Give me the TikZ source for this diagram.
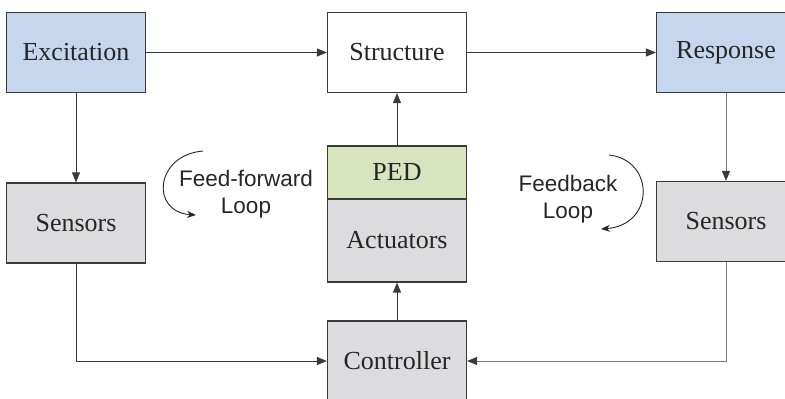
\documentclass[tikz,border=0pt]{standalone}
\usepackage{fontspec}
\setmainfont{Liberation Serif}
\setsansfont{Liberation Sans}
\usetikzlibrary{arrows.meta}
\definecolor{boxblue}{HTML}{C6D7ED}
\definecolor{boxgray}{HTML}{DCDCDE}
\definecolor{boxgreen}{HTML}{D8E4BD}
\definecolor{edge}{HTML}{3A3A3A}
\definecolor{lightedge}{HTML}{7A7A7A}
\tikzset{
  x=1pt, y=-1pt,
  blockbox/.style={draw=edge, line width=1.2pt, minimum width=139pt, minimum height=80pt,
    inner sep=0pt, font=\fontsize{26}{29}\selectfont, text=black!85},
  link/.style={draw=edge, line width=1pt, -{Triangle[length=10pt,width=8pt]}},
  greylink/.style={draw=lightedge, line width=1pt, -{Triangle[length=10pt,width=8pt,color=edge]}},
  looparrow/.style={draw=black!85, line width=0.9pt, -{Stealth[length=9pt,width=7pt]}},
  looplabel/.style={font=\sffamily\fontsize{22.5}{27}\selectfont, align=center, text=black!85}
}
\begin{document}
\begin{tikzpicture}
\useasboundingbox (0,0) rectangle (785,399);

% top row
\node[blockbox, fill=boxblue] (exc) at (76,52.5) {Excitation};
\node[blockbox, fill=white]   (str) at (397,52.5) {Structure};
\node[blockbox, fill=boxblue] (res) at (726,52.5) {Response};

% sensors
\node[blockbox, fill=boxgray] (sl) at (76,223) {Sensors};
\node[blockbox, fill=boxgray] (sr) at (726,221.5) {Sensors};

% actuator stack
\node[blockbox, fill=boxgreen, minimum height=53pt] (ped) at (397,172.5) {PED};
\node[blockbox, fill=boxgray, minimum height=83pt] (act) at (397,240.5) {Actuators};

% controller
\node[blockbox, fill=boxgray] (ctl) at (397,361) {Controller};

% forward path
\draw[link] (exc.east) -- (str.west);
\draw[link] (str.east) -- (res.west);
\draw[link] (exc.south) -- (sl.north);
\draw[greylink] (res.south) -- (sr.north);
\draw[link] (ped.north) -- (str.south);
\draw[link] (ctl.north) -- (act.south);

% feedback paths to controller
\draw[link] (sl.south) |- (ctl.west);
\draw[greylink] (sr.south) |- (ctl.east);

% loop annotations
\node[looplabel] (ffl) at (246,194) {Feed-forward\\Loop};
\node[looplabel] (fbl) at (568,199) {Feedback\\Loop};
\coordinate (ffs) at (203,151);
\coordinate (ffe) at (196,215);
\draw[looparrow] (ffs) .. controls (155,155) and (150,212) .. (ffe);
\coordinate (fbs) at (609,155);
\coordinate (fbe) at (601,229);
\draw[looparrow] (fbs) .. controls (655,160) and (655,225) .. (fbe);
\end{tikzpicture}
\end{document}
